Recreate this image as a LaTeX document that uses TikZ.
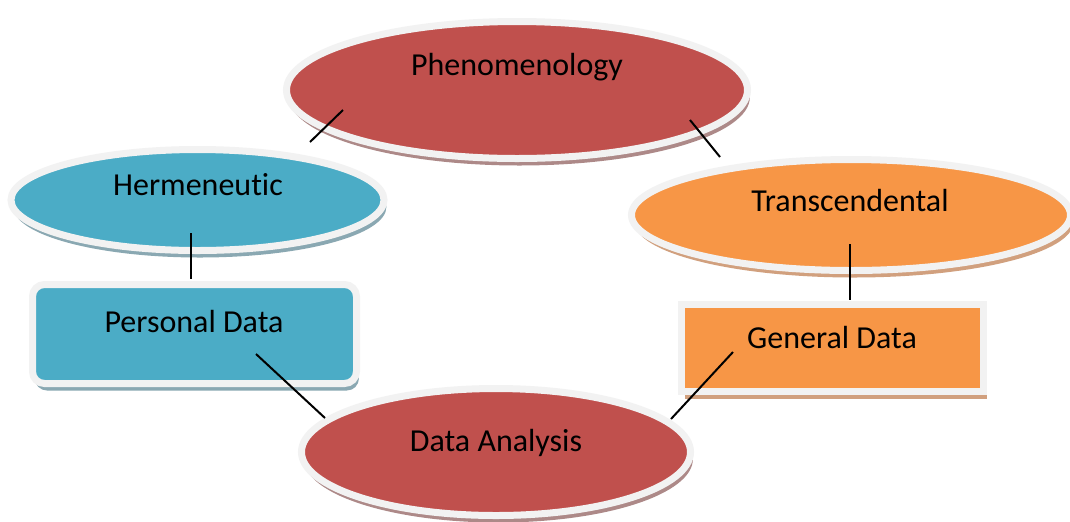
\documentclass[tikz,border=0pt]{standalone}
\usepackage{fontspec}
\setmainfont{Carlito}[Ligatures=NoCommon]
\usetikzlibrary{shapes.geometric}
\usetikzlibrary{shadows}
\definecolor{phred}{HTML}{C0504D}
\definecolor{heblue}{HTML}{4BACC6}
\definecolor{trorange}{HTML}{F79646}
\definecolor{rimgray}{HTML}{F2F2F2}
\definecolor{redshade}{HTML}{AD8988}
\definecolor{blueshade}{HTML}{8AA8B2}
\definecolor{orangeshade}{HTML}{D1A07E}
\tikzset{
  shapebase/.style={draw=rimgray, line width=3.5pt, inner sep=0pt},
  oval/.style={shapebase, ellipse},
  box/.style={shapebase, rectangle},
  redshadow/.style={general shadow={fill=redshade, shadow xshift=1.2pt, shadow yshift=-3.5pt}},
  blueshadow/.style={general shadow={fill=blueshade, shadow xshift=1.2pt, shadow yshift=-3.5pt}},
  orangeshadow/.style={general shadow={fill=orangeshade, shadow xshift=1.5pt, shadow yshift=-3.5pt}},
  caption/.style={anchor=base, font=\fontsize{16}{19}\selectfont},
  link/.style={line width=1pt, black}
}

\begin{document}
\begin{tikzpicture}[x=0.5pt, y=-0.5pt]
    \useasboundingbox[fill=white] (0,0) rectangle (1070,521);

    % shapes
    \node [oval, fill=phred, redshadow, minimum width=230.5pt, minimum height=68.5pt]
      (phen) at (517,90) {};
    \node [oval, fill=heblue, blueshadow, minimum width=186.5pt, minimum height=50.5pt]
      (herm) at (197.5,200) {};
    \node [oval, fill=trorange, orangeshadow, minimum width=219.5pt, minimum height=55.5pt]
      (trans) at (851,215) {};
    \node [box, rounded corners=6pt, fill=heblue, blueshadow, minimum width=162pt, minimum height=49.5pt]
      (pers) at (194.5,334) {};
    \node [box, fill=trorange, orangeshadow, minimum width=151pt, minimum height=43.5pt]
      (gen) at (832.5,348) {};
    \node [oval, fill=phred, redshadow, minimum width=194.5pt, minimum height=63.5pt]
      (anal) at (496,452) {};

    % texts
    \node [caption] (phenT)  at (517,75)  {Phenomenology};
    \node [caption] (hermT)  at (198,195) {Hermeneutic};
    \node [caption] (transT) at (850,211) {Transcendental};
    \node [caption] (persT)  at (194,332) {Personal Data};
    \node [caption] (genT)   at (832,348) {General Data};
    \node [caption] (analT)  at (496,451) {Data Analysis};

    % link ends
    \coordinate (hermTop)   at (310,142);
    \coordinate (phenLeft)  at (343,110);
    \coordinate (phenRight) at (690,120);
    \coordinate (transTop)  at (720,157);
    \coordinate (hermLow)   at (191,233);
    \coordinate (persTop)   at (191,279);
    \coordinate (persLow)   at (256,354);
    \coordinate (analLeft)  at (325,418);
    \coordinate (transLow)  at (850,244);
    \coordinate (genTop)    at (850,300);
    \coordinate (genLow)    at (733,352);
    \coordinate (analRight) at (671,419);

    \draw [link] (hermTop)   -- (phenLeft);
    \draw [link] (phenRight) -- (transTop);
    \draw [link] (hermLow)   -- (persTop);
    \draw [link] (persLow)   -- (analLeft);
    \draw [link] (transLow)  -- (genTop);
    \draw [link] (genLow)    -- (analRight);
\end{tikzpicture}
\end{document}
